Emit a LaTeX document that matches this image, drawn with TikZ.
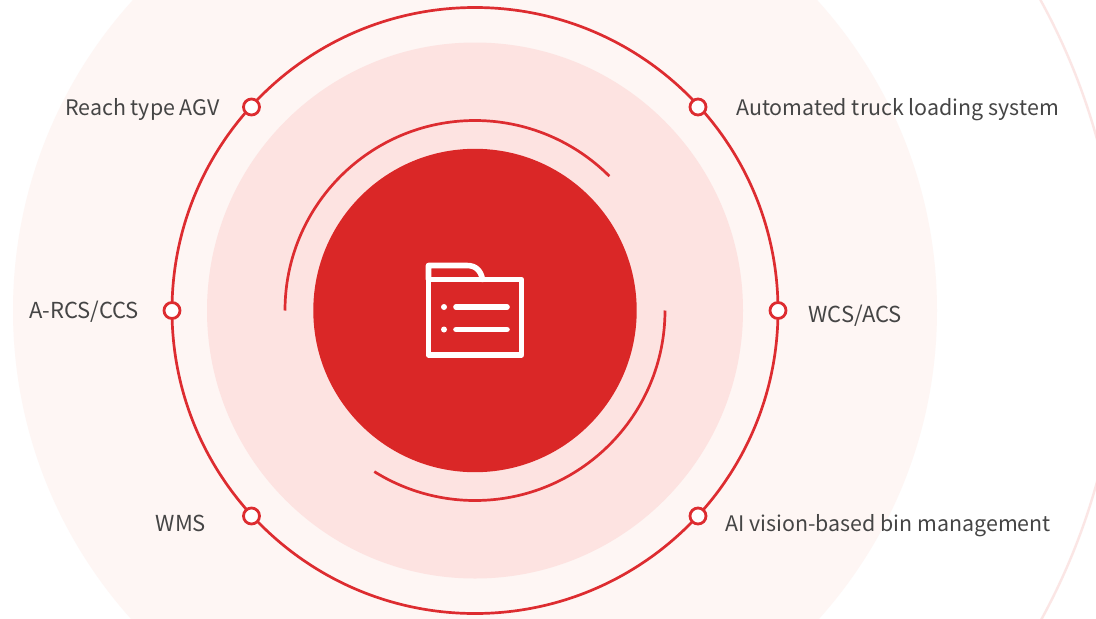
\documentclass[tikz,border=0pt]{standalone}
\usepackage{fontspec}
\setmainfont{Noto Sans CJK SC}
\definecolor{outerc}{HTML}{FEF6F4}
\definecolor{midc}{HTML}{FDE3E1}
\definecolor{corec}{HTML}{DA2727}
\definecolor{linec}{HTML}{DD2C30}
\definecolor{farc}{HTML}{FBE6E5}
\definecolor{textc}{HTML}{454545}
\tikzset{
  ringdot/.style={circle,draw=linec,fill=white,line width=2.8pt,minimum size=16pt,inner sep=0pt},
  lab/.style={text=textc,font=\fontsize{21.4}{24}\selectfont,inner sep=0pt,anchor=base west},
  capslab/.style={lab,font=\fontsize{22}{24}\selectfont},
  redline/.style={draw=linec,line width=2.7pt},
  icon/.style={draw=white,line width=5.6pt,line cap=round,line join=round}
}
\begin{document}
\begin{tikzpicture}[x=1pt,y=-1pt]
\useasboundingbox (0,0) rectangle (1096,619);
\clip (0,0) rectangle (1096,619);
\fill[white] (0,0) rectangle (1096,619);
\coordinate (c) at (475,310.5);
\fill[outerc] (c) circle[radius=462pt];
\draw[farc,line width=2.4pt] (c) circle[radius=645pt];
\fill[midc] (c) circle[radius=268pt];
\draw[redline] (c) circle[radius=303pt];
\fill[corec] (c) circle[radius=161.7pt];
% inner arcs (arc angles are in the page's own sense)
\draw[redline] (285,310.5) arc[start angle=180,end angle=45,radius=190pt];
\draw[redline] (665,310.5) arc[start angle=0,end angle=-122,radius=190pt];
% ring markers
\node[ringdot] (d1) at (251.5,107) {};
\node[ringdot] (d2) at (698,107) {};
\node[ringdot] (d3) at (172,310.5) {};
\node[ringdot] (d4) at (778,310.5) {};
\node[ringdot] (d5) at (251.5,516) {};
\node[ringdot] (d6) at (698,516) {};
% labels
\node[lab] (l1) at (65,115) {Reach type AGV};
\node[lab] (l2) at (736,115) {Automated truck loading system};
\node[capslab] (l3) at (29,318.5) {A-RCS/CCS};
\node[capslab] (l4) at (808.5,322) {WCS/ACS};
\node[capslab] (l5) at (155.5,531) {WMS};
\node[lab] (l6) at (725,531) {AI vision-based bin management};
% folder icon
\draw[icon] (428.5,279.5) -- (428.5,355) -- (521.5,355) -- (521.5,279.5) -- cycle;
\draw[icon] (428.5,279.5) -- (428.5,265.5) -- (467,265.5) .. controls (476,265.5) and (481,271) .. (482.5,279.5);
\draw[icon] (456,307) -- (507,307);
\draw[icon] (456,329.5) -- (507,329.5);
\fill[white] (444,307) circle[radius=3pt] (444,329.5) circle[radius=3pt];
\end{tikzpicture}
\end{document}
